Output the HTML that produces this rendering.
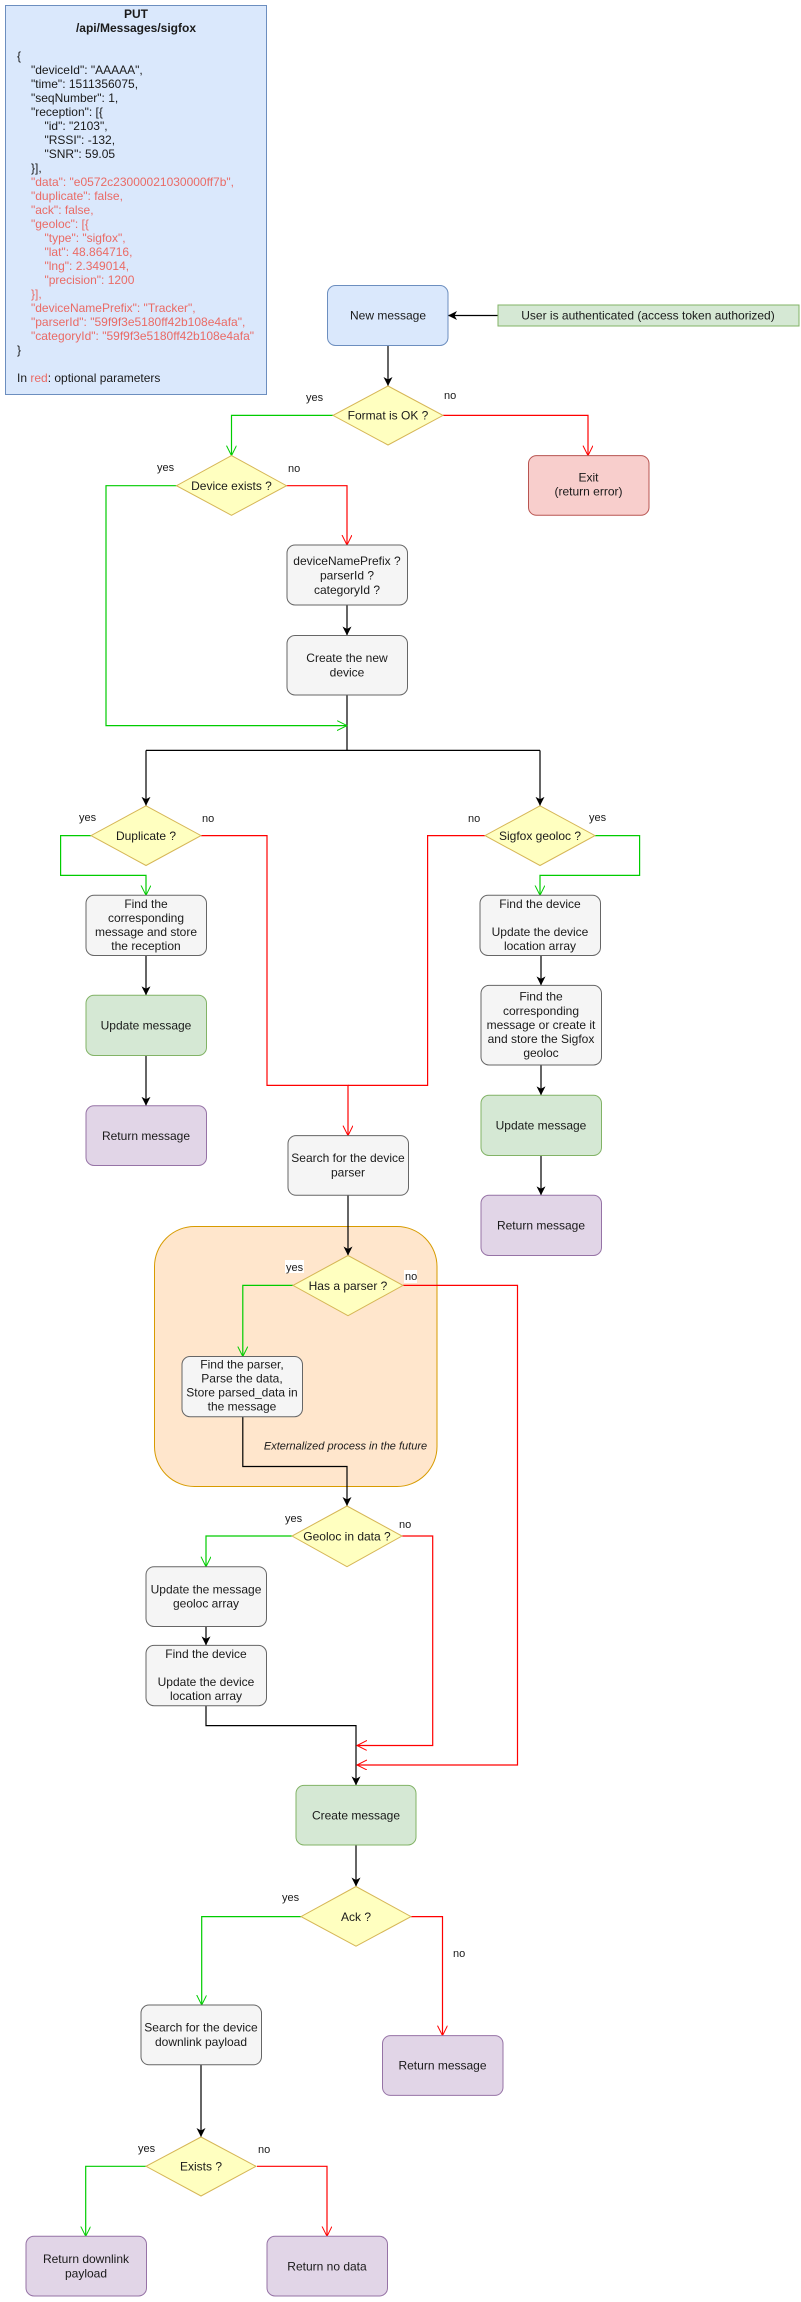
<!DOCTYPE html>
<html><head><meta charset="utf-8"><style>
html,body{margin:0;padding:0;background:#fff;}
svg{display:block;font-family:"Liberation Sans",Arial,sans-serif;}
.t{font-size:12px;fill:#1a1a1a;text-anchor:middle;}
.l{font-size:11px;fill:#1a1a1a;}
.c{font-size:12px;fill:#1a1a1a;}
.r{fill:#ea6b66;}
</style></head><body>
<svg width="801" height="2302" viewBox="0 0 801 2302" xmlns="http://www.w3.org/2000/svg">
<defs>
<marker id="ab" markerUnits="userSpaceOnUse" markerWidth="12" markerHeight="12" refX="9" refY="4.5" orient="auto"><path d="M0,0 L9,4.5 L0,9 L2.5,4.5 z" fill="#000"/></marker>
<marker id="ag" markerUnits="userSpaceOnUse" markerWidth="14" markerHeight="14" refX="10" refY="5" orient="auto"><path d="M0,0 L10,5 L0,10" fill="none" stroke="#00cc00" stroke-width="1"/></marker>
<marker id="ar" markerUnits="userSpaceOnUse" markerWidth="14" markerHeight="14" refX="10" refY="5" orient="auto"><path d="M0,0 L10,5 L0,10" fill="none" stroke="#ff0000" stroke-width="1"/></marker>
</defs>

<!-- top request box -->
<rect x="5.5" y="5.5" width="261" height="389" fill="#dae8fc" stroke="#6c8ebf"/>
<text class="t" x="136" y="18" font-weight="bold">PUT</text>
<text class="t" x="136" y="32" font-weight="bold">/api/Messages/sigfox</text>
<g class="c">
<text x="17" y="60">{</text>
<text x="31" y="74">"deviceId": "AAAAA",</text>
<text x="31" y="88">"time": 1511356075,</text>
<text x="31" y="102">"seqNumber": 1,</text>
<text x="31" y="116">"reception": [{</text>
<text x="44.5" y="130">"id": "2103",</text>
<text x="44.5" y="144">"RSSI": -132,</text>
<text x="44.5" y="158">"SNR": 59.05</text>
<text x="31" y="172">}],</text>
<text class="r" x="31" y="186">"data": "e0572c23000021030000ff7b",</text>
<text class="r" x="31" y="200">"duplicate": false,</text>
<text class="r" x="31" y="214">"ack": false,</text>
<text class="r" x="31" y="228">"geoloc": [{</text>
<text class="r" x="44.5" y="242">"type": "sigfox",</text>
<text class="r" x="44.5" y="256">"lat": 48.864716,</text>
<text class="r" x="44.5" y="270">"lng": 2.349014,</text>
<text class="r" x="44.5" y="284">"precision": 1200</text>
<text class="r" x="31" y="298">}],</text>
<text class="r" x="31" y="312">"deviceNamePrefix": "Tracker",</text>
<text class="r" x="31" y="326">"parserId": "59f9f3e5180ff42b108e4afa",</text>
<text class="r" x="31" y="340">"categoryId": "59f9f3e5180ff42b108e4afa"</text>
<text x="17" y="354">}</text>
<text x="17" y="382">In <tspan class="r">red</tspan>: optional parameters</text>
</g>

<!-- orange container -->
<rect x="154.5" y="1226.5" width="282.5" height="260" rx="40" fill="#ffe6cc" stroke="#d79b00"/>
<text x="345.5" y="1449.5" font-size="11" font-style="italic" fill="#1a1a1a" text-anchor="middle">Externalized process in the future</text>

<!-- black connectors -->
<g fill="none" stroke="#000" stroke-width="1.2">
<path d="M498,315.5 H448" marker-end="url(#ab)"/>
<path d="M388,345.6 V386" marker-end="url(#ab)"/>
<path d="M347,605 V635.5" marker-end="url(#ab)"/>
<path d="M347,695 V750.4 M146,750.4 H540"/>
<path d="M146,750.4 V805.8" marker-end="url(#ab)"/>
<path d="M540,750.4 V805.8" marker-end="url(#ab)"/>
<path d="M146,955.5 V995.3" marker-end="url(#ab)"/>
<path d="M146,1055.5 V1105.8" marker-end="url(#ab)"/>
<path d="M541,955.5 V985.4" marker-end="url(#ab)"/>
<path d="M541,1065 V1095.3" marker-end="url(#ab)"/>
<path d="M541,1155.5 V1195.3" marker-end="url(#ab)"/>
<path d="M348,1195.3 V1255.5" marker-end="url(#ab)"/>
<path d="M242.8,1416.7 V1466.5 H347 V1506" marker-end="url(#ab)"/>
<path d="M206,1626.5 V1645.4" marker-end="url(#ab)"/>
<path d="M206,1705.7 V1725.6 H356 V1785.4" marker-end="url(#ab)"/>
<path d="M356,1845 V1886.5" marker-end="url(#ab)"/>
<path d="M201,2064.8 V2137" marker-end="url(#ab)"/>
</g>
<!-- green -->
<g fill="none" stroke="#00cc00" stroke-width="1.2">
<path d="M333,415.4 H231.5 V455.6" marker-end="url(#ag)"/>
<path d="M176.5,485.7 H106 V725.6 H347" marker-end="url(#ag)"/>
<path d="M91,835.6 H60.6 V875.4 H146 V895.3" marker-end="url(#ag)"/>
<path d="M595,835.6 H639.6 V875.4 H540 V895.3" marker-end="url(#ag)"/>
<path d="M293,1285.4 H242.8 V1356.5" marker-end="url(#ag)"/>
<path d="M292,1536 H206 V1566.7" marker-end="url(#ag)"/>
<path d="M301,1916.6 H201.7 V2005" marker-end="url(#ag)"/>
<path d="M147,2166.3 H85.7 V2236.3" marker-end="url(#ag)"/>
</g>
<!-- red -->
<g fill="none" stroke="#ff0000" stroke-width="1.2">
<path d="M443,415.4 H588 V455.6" marker-end="url(#ar)"/>
<path d="M286.5,485.7 H347 V545" marker-end="url(#ar)"/>
<path d="M201,835.6 H267 V1085.4 H348 V1135.6" marker-end="url(#ar)"/>
<path d="M485,835.6 H427.6 V1085.4 H348"/>
<path d="M403,1285.4 H517.5 V1765 H357" marker-end="url(#ar)"/>
<path d="M402,1536 H432.7 V1745.5 H357" marker-end="url(#ar)"/>
<path d="M411,1916.6 H442.5 V2035.6" marker-end="url(#ar)"/>
<path d="M257,2166.3 H327 V2236.3" marker-end="url(#ar)"/>
</g>

<!-- nodes -->
<rect x="327.5" y="285.5" width="120.5" height="60" rx="8" fill="#dae8fc" stroke="#6c8ebf"/>
<text class="t" x="388" y="319.5">New message</text>
<rect x="498" y="305" width="301" height="21" fill="#d5e8d4" stroke="#82b366"/>
<text class="t" x="648" y="319.5">User is authenticated (access token authorized)</text>

<polygon points="388,386 443,415.4 388,445 333,415.4" fill="#ffffc0" stroke="#d6b656"/>
<text class="t" x="388" y="419.5">Format is OK ?</text>
<rect x="528.5" y="455.6" width="120.5" height="59.7" rx="8" fill="#f8cecc" stroke="#b85450"/>
<text class="t" x="588.5" y="481.5">Exit</text>
<text class="t" x="588.5" y="495.5">(return error)</text>

<polygon points="231.5,455.6 286.5,485.7 231.5,515.3 176.5,485.7" fill="#ffffc0" stroke="#d6b656"/>
<text class="t" x="231.5" y="490">Device exists ?</text>

<rect x="287" y="545" width="120.5" height="60" rx="8" fill="#f5f5f5" stroke="#666"/>
<text class="t" x="347" y="565">deviceNamePrefix ?</text>
<text class="t" x="347" y="579.4">parserId ?</text>
<text class="t" x="347" y="593.8">categoryId ?</text>
<rect x="287" y="635.5" width="120.5" height="59.5" rx="8" fill="#f5f5f5" stroke="#666"/>
<text class="t" x="347" y="662">Create the new</text>
<text class="t" x="347" y="676.4">device</text>

<polygon points="146,805.8 201,835.6 146,865.5 91,835.6" fill="#ffffc0" stroke="#d6b656"/>
<text class="t" x="146" y="840">Duplicate ?</text>
<polygon points="540,805.8 595,835.6 540,865.5 485,835.6" fill="#ffffc0" stroke="#d6b656"/>
<text class="t" x="540" y="840">Sigfox geoloc ?</text>

<rect x="86" y="895.3" width="120.5" height="60.2" rx="8" fill="#f5f5f5" stroke="#666"/>
<text class="t" x="146" y="908">Find the</text>
<text class="t" x="146" y="922">corresponding</text>
<text class="t" x="146" y="936">message and store</text>
<text class="t" x="146" y="950">the reception</text>
<rect x="86" y="995.3" width="120.5" height="60.2" rx="8" fill="#d5e8d4" stroke="#82b366"/>
<text class="t" x="146" y="1029.5">Update message</text>
<rect x="86" y="1105.8" width="120.5" height="59.7" rx="8" fill="#e1d5e7" stroke="#9673a6"/>
<text class="t" x="146" y="1140">Return message</text>

<rect x="480" y="895.3" width="120.5" height="60.2" rx="8" fill="#f5f5f5" stroke="#666"/>
<text class="t" x="540" y="908">Find the device</text>
<text class="t" x="540" y="936">Update the device</text>
<text class="t" x="540" y="950">location array</text>
<rect x="481" y="985.4" width="120.5" height="79.6" rx="8" fill="#f5f5f5" stroke="#666"/>
<text class="t" x="541" y="1000.5">Find the</text>
<text class="t" x="541" y="1014.8">corresponding</text>
<text class="t" x="541" y="1029">message or create it</text>
<text class="t" x="541" y="1043">and store the Sigfox</text>
<text class="t" x="541" y="1057.2">geoloc</text>
<rect x="481" y="1095.3" width="120.5" height="60.2" rx="8" fill="#d5e8d4" stroke="#82b366"/>
<text class="t" x="541" y="1129.5">Update message</text>
<rect x="481" y="1195.3" width="120.5" height="60.2" rx="8" fill="#e1d5e7" stroke="#9673a6"/>
<text class="t" x="541" y="1229.5">Return message</text>

<rect x="288" y="1135.6" width="120.5" height="59.7" rx="8" fill="#f5f5f5" stroke="#666"/>
<text class="t" x="348" y="1162">Search for the device</text>
<text class="t" x="348" y="1176.4">parser</text>

<polygon points="348,1255.5 403,1285.4 348,1315.7 293,1285.4" fill="#ffffc0" stroke="#d6b656"/>
<text class="t" x="348" y="1289.8">Has a parser ?</text>
<rect x="182" y="1356.5" width="120.5" height="60.2" rx="8" fill="#f5f5f5" stroke="#666"/>
<text class="t" x="242" y="1368.7">Find the parser,</text>
<text class="t" x="242" y="1382.7">Parse the data,</text>
<text class="t" x="242" y="1396.7">Store parsed_data in</text>
<text class="t" x="242" y="1410.7">the message</text>

<polygon points="347,1506 402,1536 347,1566.7 292,1536" fill="#ffffc0" stroke="#d6b656"/>
<text class="t" x="347" y="1540.3">Geoloc in data ?</text>

<rect x="146" y="1566.7" width="120.5" height="59.8" rx="8" fill="#f5f5f5" stroke="#666"/>
<text class="t" x="206" y="1593.5">Update the message</text>
<text class="t" x="206" y="1607.5">geoloc array</text>
<rect x="146" y="1645.4" width="120.5" height="60.3" rx="8" fill="#f5f5f5" stroke="#666"/>
<text class="t" x="206" y="1658">Find the device</text>
<text class="t" x="206" y="1686">Update the device</text>
<text class="t" x="206" y="1700">location array</text>

<rect x="296" y="1785.4" width="120" height="59.6" rx="8" fill="#d5e8d4" stroke="#82b366"/>
<text class="t" x="356" y="1819.5">Create message</text>
<polygon points="356,1886.5 411,1916.6 356,1946.2 301,1916.6" fill="#ffffc0" stroke="#d6b656"/>
<text class="t" x="356" y="1921">Ack ?</text>

<rect x="141" y="2005" width="120.5" height="59.8" rx="8" fill="#f5f5f5" stroke="#666"/>
<text class="t" x="201" y="2031.5">Search for the device</text>
<text class="t" x="201" y="2045.9">downlink payload</text>
<rect x="382.5" y="2035.6" width="120.5" height="59.8" rx="8" fill="#e1d5e7" stroke="#9673a6"/>
<text class="t" x="442.5" y="2069.5">Return message</text>

<polygon points="201,2137 256,2166.3 201,2196 146,2166.3" fill="#ffffc0" stroke="#d6b656"/>
<text class="t" x="201" y="2170.5">Exists ?</text>
<rect x="26" y="2236.3" width="120.5" height="59.7" rx="8" fill="#e1d5e7" stroke="#9673a6"/>
<text class="t" x="86" y="2263">Return downlink</text>
<text class="t" x="86" y="2277.4">payload</text>
<rect x="267" y="2236.3" width="120.5" height="59.7" rx="8" fill="#e1d5e7" stroke="#9673a6"/>
<text class="t" x="327" y="2270.5">Return no data</text>

<!-- edge labels -->
<g class="l">
<text x="306" y="401">yes</text>
<text x="444" y="399">no</text>
<text x="157" y="471">yes</text>
<text x="288" y="472">no</text>
<text x="79" y="821">yes</text>
<text x="202" y="822">no</text>
<text x="468" y="822">no</text>
<text x="589" y="821">yes</text>
<rect x="285" y="1260" width="19" height="13" fill="#fff"/>
<text x="286" y="1271">yes</text>
<rect x="404" y="1270" width="13" height="13" fill="#fff"/>
<text x="405" y="1280">no</text>
<text x="285" y="1522">yes</text>
<text x="399" y="1528">no</text>
<text x="282" y="1901">yes</text>
<text x="453" y="1957">no</text>
<text x="138" y="2152">yes</text>
<text x="258" y="2153">no</text>
</g>
</svg>
</body></html>
